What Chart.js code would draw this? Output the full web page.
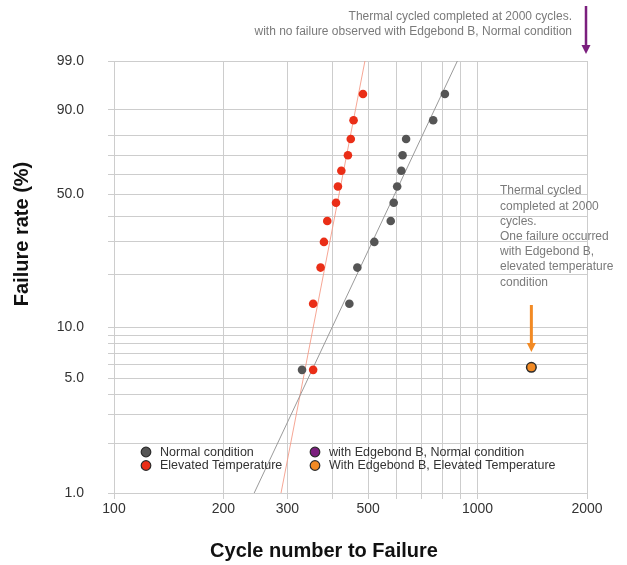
<!DOCTYPE html>
<html>
<head>
<meta charset="utf-8">
<title>Cycle number to Failure - Weibull plot</title>
<script src="https://cdn.jsdelivr.net/npm/chart.js@4.4.1/dist/chart.umd.min.js"></script>
<style>
  html, body { margin: 0; padding: 0; background: #fff; }
  #wrap { width: 627px; height: 565px; }
</style>
</head>
<body>
<div id="wrap"><canvas id="weibullChart" width="627" height="565"></canvas></div>
<script>
(function() {
    'use strict';

    // Failure rate (%) for each ranked failure (12 samples per condition)
    const failureRates = [5.6, 13.7, 21.8, 29.8, 37.9, 46.0, 54.0, 62.1, 70.2, 78.2, 86.3, 94.4];
    const normalCycles = [329, 444, 467, 520, 577, 588, 601, 617, 622, 636, 755, 813];
    const elevatedCycles = [353, 353, 370, 378, 386, 408, 413, 422, 440, 448, 456, 484];

    // Edgebond B, elevated temperature: one failure before 2000 cycles
    const edgebondElevatedCycles = [1406];
    const edgebondElevatedRates = [5.8];

    // Fitted lines, given by their ends at 1% and 99%
    const fitRates = [1, 99];
    const normalFitCycles = [243, 880];
    const elevatedFitCycles = [288, 490];

    const xTicks = [100, 200, 300, 400, 500, 600, 700, 800, 900, 1000, 2000];
    const xLabels = [100, 200, 300, 500, 1000, 2000];
    const yTicks = [1, 2, 3, 4, 5, 6, 7, 8, 9, 10, 20, 30, 40, 50, 60, 70, 80, 90, 99];
    const yLabels = [1, 5, 10, 50, 90, 99];

    const FONT = '"Liberation Sans", Arial, Helvetica, sans-serif';
    const GRID = '#cdcdcd';

    function pairs(xs, ys) {
        return xs.map(function(x, i) { return { x: x, y: ys[i] }; });
    }

    // Weibull probability scale: ln(-ln(1 - F))
    function weibull(pct) {
        return Math.log(-Math.log(1 - pct / 100));
    }

    class WeibullScale extends Chart.Scale {
        parse(raw) {
            return +raw;
        }
        determineDataLimits() {
            this.min = this.options.min;
            this.max = this.options.max;
        }
        buildTicks() {
            return yTicks.map(function(v) { return { value: v }; });
        }
        getLabelForValue(value) {
            return value.toFixed(1);
        }
        configure() {
            super.configure();
            this._startValue = weibull(this.min);
            this._valueRange = weibull(this.max) - this._startValue;
        }
        getPixelForValue(value) {
            return this.getPixelForDecimal((weibull(value) - this._startValue) / this._valueRange);
        }
        getValueForPixel(pixel) {
            const w = this._startValue + this.getDecimalForPixel(pixel) * this._valueRange;
            return 100 * (1 - Math.exp(-Math.exp(w)));
        }
    }
    WeibullScale.id = 'weibull';
    WeibullScale.defaults = {};
    Chart.register(WeibullScale);

    function arrow(ctx, x, y0, y1, color, width) {
        ctx.strokeStyle = color;
        ctx.fillStyle = color;
        ctx.lineWidth = width;
        ctx.beginPath();
        ctx.moveTo(x, y0);
        ctx.lineTo(x, y1 - 8);
        ctx.stroke();
        ctx.beginPath();
        ctx.moveTo(x - 4.5, y1 - 9);
        ctx.lineTo(x + 4.5, y1 - 9);
        ctx.lineTo(x, y1);
        ctx.closePath();
        ctx.fill();
    }

    // Legend, notes, arrows and axis titles
    const overlay = {
        id: 'overlay',
        afterDraw(chart) {
            const ctx = chart.ctx;
            const xs = chart.scales.x;
            ctx.save();

            // legend in two columns, inside the plot
            const legendSets = chart.data.datasets.filter(function(d) { return d.inLegend; });
            const cols = [146, 315];
            const rows = [452, 465.5];
            ctx.font = '12.5px ' + FONT;
            ctx.textBaseline = 'middle';
            ctx.textAlign = 'left';
            legendSets.forEach(function(d, i) {
                const cx = cols[Math.floor(i / 2)];
                const cy = rows[i % 2];
                ctx.beginPath();
                ctx.arc(cx, cy, 4.8, 0, Math.PI * 2);
                ctx.fillStyle = d.backgroundColor;
                ctx.fill();
                ctx.lineWidth = 1.2;
                ctx.strokeStyle = '#2b2b2b';
                ctx.stroke();
                ctx.fillStyle = '#333';
                ctx.fillText(d.label, cx + 14, cy + 0.5);
            });

            // note at the top right
            ctx.fillStyle = '#7a7a7a';
            ctx.font = '12px ' + FONT;
            ctx.textAlign = 'right';
            ctx.fillText('Thermal cycled completed at 2000 cycles.', 572, 17);
            ctx.fillText('with no failure observed with Edgebond B, Normal condition', 572, 32);

            // note at the right of the plot
            ctx.textAlign = 'left';
            const notes = ['Thermal cycled', 'completed at 2000', 'cycles.', 'One failure occurred',
                'with Edgebond B,', 'elevated temperature', 'condition'];
            notes.forEach(function(t, i) {
                ctx.fillText(t, 500, 191 + i * 15.2);
            });

            // arrows
            arrow(ctx, xs.getPixelForValue(2000) - 1, 6, 54, '#7b1f7e', 2.5);
            arrow(ctx, xs.getPixelForValue(edgebondElevatedCycles[0]), 305, 352, '#f28a24', 3);

            // axis titles
            ctx.fillStyle = '#111';
            ctx.font = 'bold 20px ' + FONT;
            ctx.textAlign = 'center';
            ctx.fillText('Cycle number to Failure', 324, 551);
            ctx.translate(22, 234);
            ctx.rotate(-Math.PI / 2);
            ctx.fillText('Failure rate (%)', 0, 0);
            ctx.restore();
        }
    };

    Chart.defaults.font.family = FONT;

    const ctx = document.getElementById('weibullChart').getContext('2d');
    const weibullChart = new Chart(ctx, {
        type: 'scatter',
        data: {
            datasets: [{
                label: 'Normal condition',
                inLegend: true,
                data: pairs(normalCycles, failureRates),
                backgroundColor: '#555555',
                borderColor: '#555555',
                pointRadius: 4.3,
                borderWidth: 0,
                order: 1
            }, {
                label: 'Elevated Temperature',
                inLegend: true,
                data: pairs(elevatedCycles, failureRates),
                backgroundColor: '#ea2e17',
                borderColor: '#ea2e17',
                pointRadius: 4.3,
                borderWidth: 0,
                order: 1
            }, {
                label: 'with Edgebond B, Normal condition',
                inLegend: true,
                data: [],
                backgroundColor: '#7b1f7e',
                borderColor: '#2b2b2b',
                order: 1
            }, {
                label: 'With Edgebond B, Elevated Temperature',
                inLegend: true,
                data: pairs(edgebondElevatedCycles, edgebondElevatedRates),
                backgroundColor: '#f28a24',
                borderColor: '#2b2b2b',
                pointRadius: 4.8,
                borderWidth: 1.5,
                order: 1
            }, {
                label: 'Normal fit',
                data: pairs(normalFitCycles, fitRates),
                showLine: true,
                pointRadius: 0,
                borderColor: '#9a9a9a',
                borderWidth: 1,
                order: 2
            }, {
                label: 'Elevated fit',
                data: pairs(elevatedFitCycles, fitRates),
                showLine: true,
                pointRadius: 0,
                borderColor: 'rgba(244, 150, 130, 0.85)',
                borderWidth: 1,
                order: 2
            }]
        },
        options: {
            responsive: false,
            animation: false,
            layout: {
                padding: { top: 61, right: 40, left: 0, bottom: 0 }
            },
            plugins: {
                legend: { display: false },
                tooltip: { enabled: false }
            },
            scales: {
                x: {
                    type: 'logarithmic',
                    min: 100,
                    max: 2000,
                    afterBuildTicks: function(scale) {
                        scale.ticks = xTicks.map(function(v) { return { value: v }; });
                    },
                    afterFit: function(scale) {
                        scale.height = 72;
                    },
                    ticks: {
                        autoSkip: false,
                        maxRotation: 0,
                        padding: 2,
                        color: '#333',
                        font: { size: 14 },
                        callback: function(value) {
                            return xLabels.indexOf(value) >= 0 ? String(value) : '';
                        }
                    },
                    grid: { color: GRID, lineWidth: 1, tickLength: 6 },
                    border: { color: GRID }
                },
                y: {
                    type: 'weibull',
                    min: 1,
                    max: 99,
                    afterFit: function(scale) {
                        scale.width = 114;
                    },
                    ticks: {
                        autoSkip: false,
                        padding: 24,
                        color: '#333',
                        font: { size: 14 },
                        callback: function(value) {
                            return yLabels.indexOf(value) >= 0 ? value.toFixed(1) : '';
                        }
                    },
                    grid: { color: GRID, lineWidth: 1, tickLength: 6 },
                    border: { color: GRID }
                }
            }
        },
        plugins: [overlay]
    });
})();
</script>
</body>
</html>
